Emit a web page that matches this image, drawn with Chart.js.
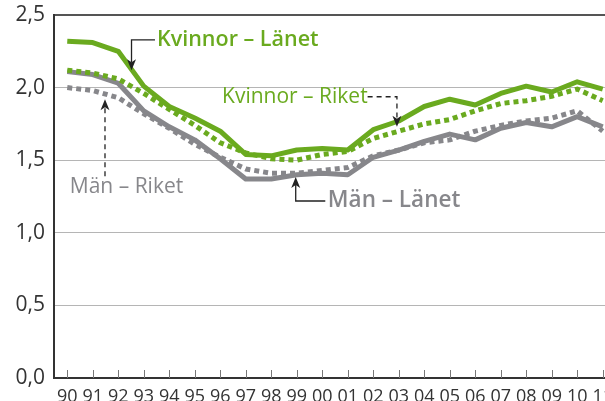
<!DOCTYPE html>
<html>
<head>
<meta charset="utf-8">
<script src="https://cdn.jsdelivr.net/npm/chart.js@4/dist/chart.umd.min.js"></script>
<style>
  html, body { margin: 0; padding: 0; background: #ffffff; overflow: hidden; }
  #wrap { width: 605px; height: 401px; position: relative; }
</style>
</head>
<body>
<div id="wrap"><canvas id="c" width="605" height="401"></canvas></div>
<script>
// ---- Data ----
const years = ['90','91','92','93','94','95','96','97','98','99','00','01','02','03','04','05','06','07','08','09','10','11'];
const kvinnorLanet = [2.32, 2.31, 2.25, 2.01, 1.87, 1.79, 1.70, 1.54, 1.53, 1.57, 1.58, 1.57, 1.71, 1.77, 1.87, 1.92, 1.88, 1.96, 2.01, 1.97, 2.04, 1.99];
const kvinnorRiket = [2.12, 2.10, 2.06, 1.96, 1.85, 1.74, 1.62, 1.55, 1.51, 1.50, 1.54, 1.56, 1.65, 1.70, 1.75, 1.78, 1.84, 1.89, 1.91, 1.94, 1.99, 1.91];
const manLanet     = [2.11, 2.09, 2.03, 1.84, 1.73, 1.64, 1.51, 1.37, 1.37, 1.40, 1.41, 1.40, 1.52, 1.57, 1.63, 1.68, 1.64, 1.72, 1.76, 1.73, 1.80, 1.73];
const manRiket     = [2.00, 1.98, 1.93, 1.82, 1.72, 1.61, 1.52, 1.44, 1.41, 1.41, 1.43, 1.45, 1.53, 1.57, 1.62, 1.64, 1.70, 1.74, 1.77, 1.79, 1.84, 1.70];
const yTicks = [0, 0.5, 1.0, 1.5, 2.0, 2.5];

const GREEN = '#6aaa1f';
const GRAY = '#87878b';

// Callout labels: text, anchor in data units, leader path in data units
const callouts = [
  { text: 'Kvinnor – Länet', color: GREEN, weight: '600', size: 21.5, tx: 3.52, ty: 2.33, dashed: false,
    path: [[3.44, 2.328], [2.52, 2.328], [2.52, 2.12]] },
  { text: 'Kvinnor – Riket', color: GREEN, weight: '400', size: 21, tx: 6.07, ty: 1.937, dashed: true,
    path: [[11.78, 1.937], [12.93, 1.937], [12.93, 1.73]] },
  { text: 'Män – Riket', color: GRAY, weight: '400', size: 21, tx: 0.10, ty: 1.318, dashed: true,
    path: [[1.48, 1.39], [1.48, 1.92]] },
  { text: 'Män – Länet', color: GRAY, weight: '600', size: 22.5, tx: 10.22, ty: 1.222, dashed: false,
    path: [[10.12, 1.219], [8.96, 1.219], [8.96, 1.385]] }
];

const toPts = arr => arr.map((v, i) => ({ x: i, y: v }));

const innerTicks = {
  id: 'innerTicks',
  afterDatasetsDraw(chart) {
    const { ctx, scales: { x, y } } = chart;
    ctx.save();
    ctx.strokeStyle = '#777777';
    ctx.lineWidth = 1;
    const yb = y.getPixelForValue(0);
    x.ticks.forEach(t => {
      const px = Math.round(x.getPixelForValue(t.value)) + 0.5;
      ctx.beginPath();
      ctx.moveTo(px, yb);
      ctx.lineTo(px, yb - 8);
      ctx.stroke();
    });
    ctx.restore();
  }
};

const calloutPlugin = {
  id: 'callouts',
  afterDraw(chart) {
    const { ctx, scales: { x, y } } = chart;
    ctx.save();
    callouts.forEach(c => {
      ctx.font = c.weight + ' ' + c.size + 'px "Open Sans", "Noto Sans", sans-serif';
      ctx.fillStyle = c.color;
      ctx.textBaseline = 'middle';
      ctx.textAlign = 'left';
      ctx.fillText(c.text, x.getPixelForValue(c.tx), y.getPixelForValue(c.ty));
      // leader
      const pts = c.path.map(p => [x.getPixelForValue(p[0]), y.getPixelForValue(p[1])]);
      ctx.strokeStyle = '#222222';
      ctx.lineWidth = 1.3;
      ctx.setLineDash(c.dashed ? [5, 4] : []);
      ctx.beginPath();
      const n = pts.length;
      const [ex, ey] = pts[n - 1];
      const [sx, sy] = pts[n - 2];
      const dx = ex - sx, dy = ey - sy;
      const len = Math.hypot(dx, dy);
      const ux = dx / len, uy = dy / len;
      pts.forEach((p, i) => {
        if (i === n - 1) ctx.lineTo(ex - ux * 8, ey - uy * 8);
        else if (i === 0) ctx.moveTo(p[0], p[1]);
        else ctx.lineTo(p[0], p[1]);
      });
      ctx.stroke();
      ctx.setLineDash([]);
      // arrowhead
      ctx.fillStyle = '#222222';
      ctx.beginPath();
      ctx.moveTo(ex, ey);
      ctx.lineTo(ex - ux * 11 - uy * 4.5, ey - uy * 11 + ux * 4.5);
      ctx.lineTo(ex - ux * 8, ey - uy * 8);
      ctx.lineTo(ex - ux * 11 + uy * 4.5, ey - uy * 11 - ux * 4.5);
      ctx.closePath();
      ctx.fill();
    });
    ctx.restore();
  }
};

new Chart(document.getElementById('c'), {
  type: 'line',
  data: {
    datasets: [
      { label: 'Män – Riket', data: toPts(manRiket), borderColor: GRAY, borderWidth: 5, borderDash: [5, 4], borderCapStyle: 'butt' },
      { label: 'Kvinnor – Riket', data: toPts(kvinnorRiket), borderColor: GREEN, borderWidth: 5, borderDash: [5, 4], borderCapStyle: 'butt' },
      { label: 'Män – Länet', data: toPts(manLanet), borderColor: GRAY, borderWidth: 5 },
      { label: 'Kvinnor – Länet', data: toPts(kvinnorLanet), borderColor: GREEN, borderWidth: 5 }
    ]
  },
  options: {
    responsive: false,
    animation: false,
    events: [],
    clip: false,
    elements: { point: { radius: 0 }, line: { tension: 0, fill: false, borderJoinStyle: 'round' } },
    layout: { padding: { top: 15, left: 0, right: 0, bottom: 0 } },
    plugins: { legend: { display: false }, tooltip: { enabled: false } },
    scales: {
      x: {
        type: 'linear',
        min: -0.52,
        max: 21.09,
        afterBuildTicks(scale) { scale.ticks = years.map((_, i) => ({ value: i })); },
        afterFit(scale) { scale.height = 23; scale.paddingLeft = 0; scale.paddingRight = 0; },
        ticks: {
          autoSkip: false,
          maxRotation: 0,
          padding: 8,
          color: '#333333',
          font: { family: '"Open Sans", "Noto Sans", sans-serif', size: 18 },
          callback: (v) => years[v]
        },
        grid: { display: false, drawTicks: false },
        border: { display: true, color: '#333333', width: 2 }
      },
      y: {
        min: 0,
        max: 2.5,
        afterBuildTicks(scale) { scale.ticks = yTicks.map(v => ({ value: v })); },
        afterFit(scale) { scale.width = 54; scale.paddingTop = 0; scale.paddingBottom = 0; },
        ticks: {
          padding: 9,
          color: '#333333',
          font: { family: '"Open Sans", "Noto Sans", sans-serif', size: 21 },
          callback: (v) => v.toFixed(1).replace('.', ',')
        },
        grid: {
          drawTicks: false,
          color: (ctx) => ctx.tick && ctx.tick.value === 2.5 ? '#555555' : '#b5b5b5',
          lineWidth: (ctx) => ctx.tick && ctx.tick.value === 2.5 ? 2 : 1
        },
        border: { display: true, color: '#333333', width: 2 }
      }
    }
  },
  plugins: [innerTicks, calloutPlugin]
});
</script>
</body>
</html>
